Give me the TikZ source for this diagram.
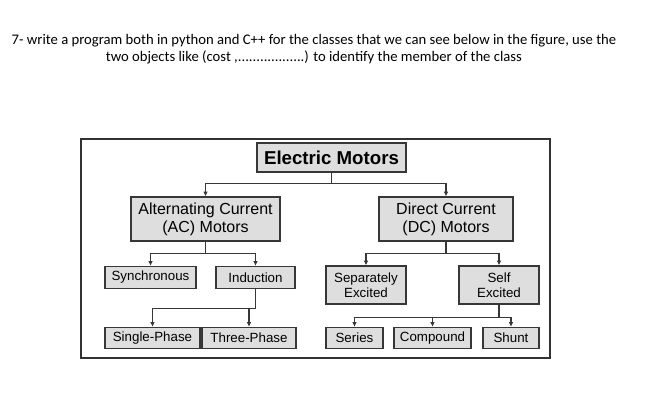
\documentclass[tikz,border=0pt]{standalone}
\usepackage{fontspec}
\setmainfont{Liberation Sans}
\newfontfamily\docfont{Carlito}
\usetikzlibrary{arrows.meta}
\definecolor{boxfill}{RGB}{222,222,222}
\definecolor{boxline}{RGB}{55,55,55}
\definecolor{framegray}{RGB}{50,50,50}

\begin{document}
\begin{tikzpicture}[x=0.75pt, y=-0.75pt,
	motor/.style={rectangle, draw=boxline, line width=1pt, fill=boxfill, inner sep=0pt, align=center, font=\fontsize{10}{11.25}\selectfont},
	boxsize/.style 2 args={minimum width=#1*0.75pt, minimum height=#2*0.75pt},
	link/.style={draw=boxline, line width=1pt, -{Latex[length=3.5pt,width=3.5pt]}}]

	% page size
	\useasboundingbox (0,0) rectangle (647,400);

	% task text
	\node[font=\docfont\fontsize{11}{12.75}\selectfont, align=center, inner sep=0pt] (task) at (314,49.5) {7- write a program both in python and C++ for the classes that we can see below in the figure, use the\\two objects like (cost ,..................) to identify the member of the class};

	% outer frame
	\draw[framegray, line width=1.1pt] (81,139) rectangle (550,358);

	% top level
	\node[motor, boxsize={149}{29}, font=\bfseries\fontsize{14}{16}\selectfont] (em) at (331.5,157.5) {Electric Motors};

	% AC and DC
	\node[motor, boxsize={149}{44}, font=\fontsize{12}{13.5}\selectfont] (ac) at (205.5,219) {Alternating Current\\(AC) Motors};
	\node[motor, boxsize={134}{44}, font=\fontsize{12}{13.5}\selectfont] (dc) at (446,219) {Direct Current\\(DC) Motors};

	% AC branch
	\node[motor, boxsize={91}{22}] (syn) at (150.5,277.5) {Synchronous};
	\node[motor, boxsize={79}{22}] (ind) at (255.5,277.5) {Induction};
	\node[motor, boxsize={95}{21}] (sp) at (152.5,338) {Single-Phase};
	\node[motor, boxsize={94}{21}] (tp) at (249,338) {Three-Phase};

	% DC branch
	\node[motor, boxsize={80}{38}] (sep) at (366,285) {Separately\\Excited};
	\node[motor, boxsize={80}{38}] (self) at (499,285) {Self\\Excited};
	\node[motor, boxsize={57}{21}] (ser) at (354.5,338) {Series};
	\node[motor, boxsize={77}{21}] (com) at (432.5,338) {Compound};
	\node[motor, boxsize={56}{21}] (shu) at (511,338) {Shunt};

	% connectors
	\draw[link] (em.south) -- ++(0,11) -| (ac.north);
	\draw[link] (em.south) -- ++(0,11) -| (dc.north);
	\draw[link] (ac.south) -- ++(0,12) -| (syn.north);
	\draw[link] (ac.south) -- ++(0,12) -| (ind.north);
	\draw[link] (ind.south) -- ++(0,19) -| (sp.north);
	\draw[link] (ind.south) -- ++(0,19) -| (tp.north);
	\draw[link] (dc.south) -- ++(0,12) -| (sep.north);
	\draw[link] (dc.south) -- ++(0,12) -| (self.north);
	\draw[link] (self.south) -- ++(0,13) -| (ser.north);
	\draw[link] (self.south) -- ++(0,13) -| (com.north);
	\draw[link] (self.south) -- ++(0,13) -| (shu.north);
\end{tikzpicture}
\end{document}
